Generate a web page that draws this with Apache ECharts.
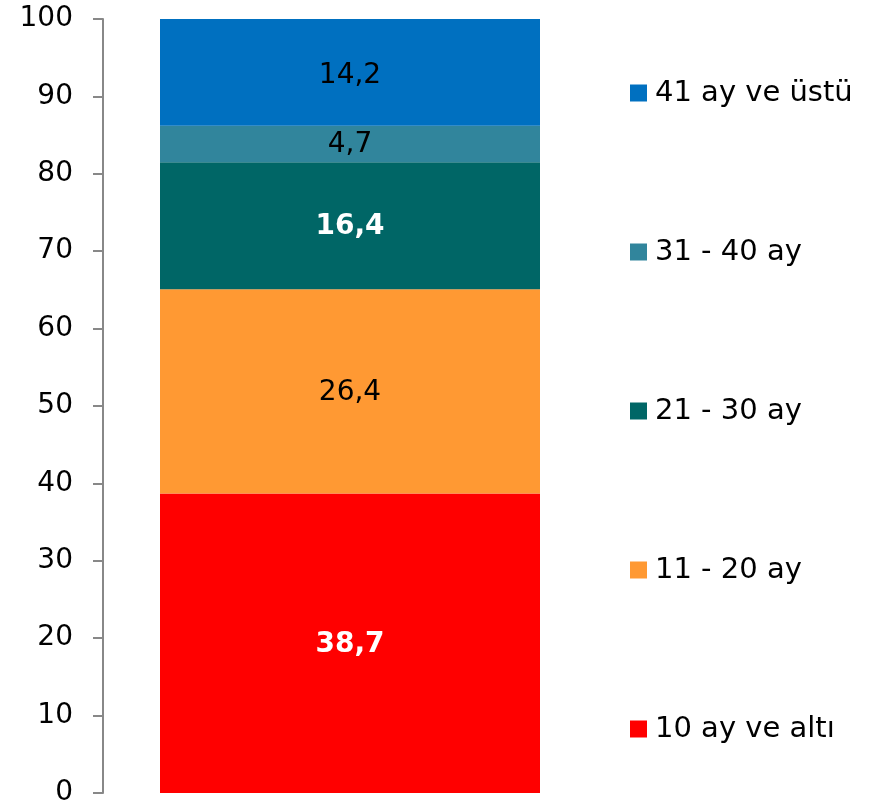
<!DOCTYPE html>
<html>
<head>
<meta charset="utf-8">
<script src="https://cdn.jsdelivr.net/npm/echarts@6/dist/echarts.min.js"></script>
<style>
  html, body { margin: 0; padding: 0; background: #fff; }
  #main { width: 872px; height: 807px; }
</style>
</head>
<body>
<div id="main"></div>
<script>
// kategoriler (alttan üste)
var seriesNames = ['10 ay ve altı', '11 - 20 ay', '21 - 30 ay', '31 - 40 ay', '41 ay ve üstü']
var seriesValues = [38.7, 26.4, 16.4, 4.7, 14.2]
var seriesColors = ['#FF0000', '#FF9933', '#006666', '#31859C', '#0070C0']
var labelColors = ['#fff', '#000', '#fff', '#000', '#000']
var labelBold = [true, false, true, false, false]

var myChart = echarts.init(document.getElementById('main'))

var series = seriesNames.map(function (name, i) {
  return {
    name: name,
    type: 'bar',
    stack: 'total',
    barWidth: 380,
    data: [seriesValues[i]],
    itemStyle: { color: seriesColors[i] },
    label: {
      show: true,
      position: 'inside',
      // üst dilim eksen sınırında kesiliyor, etiketi biraz aşağı al
      offset: i === 4 ? [0, 3] : [0, 1],
      formatter: function (p) { return String(p.value).replace('.', ',') },
      color: labelColors[i],
      fontWeight: labelBold[i] ? 'bold' : 'normal',
      fontSize: 28,
      fontFamily: 'DejaVu Sans'
    }
  }
})

var option = {
  animation: false,
  textStyle: { fontFamily: 'DejaVu Sans' },
  grid: { left: 103, right: 275, top: 19, bottom: 12, containLabel: false },
  legend: {
    orient: 'vertical',
    left: 625,
    top: 73,
    itemWidth: 17,
    itemHeight: 17,
    itemGap: 129,
    icon: 'rect',
    data: seriesNames.slice().reverse(),
    textStyle: { fontSize: 29, color: '#000', lineHeight: 30, fontFamily: 'DejaVu Sans', padding: [0, 0, 0, 3] }
  },
  xAxis: {
    type: 'category',
    data: [''],
    axisLine: { show: false },
    axisTick: { show: false },
    axisLabel: { show: false }
  },
  yAxis: {
    type: 'value',
    min: 0,
    max: 100,
    interval: 10,
    axisLine: { show: true, lineStyle: { color: '#888', width: 2 } },
    axisTick: { show: true, length: 10, lineStyle: { color: '#888', width: 2 } },
    splitLine: { show: false },
    axisLabel: { fontSize: 28, color: '#000', margin: 30, padding: [3, 0, 0, 0], fontFamily: 'DejaVu Sans' }
  },
  series: series
}

myChart.setOption(option)
</script>
</body>
</html>
